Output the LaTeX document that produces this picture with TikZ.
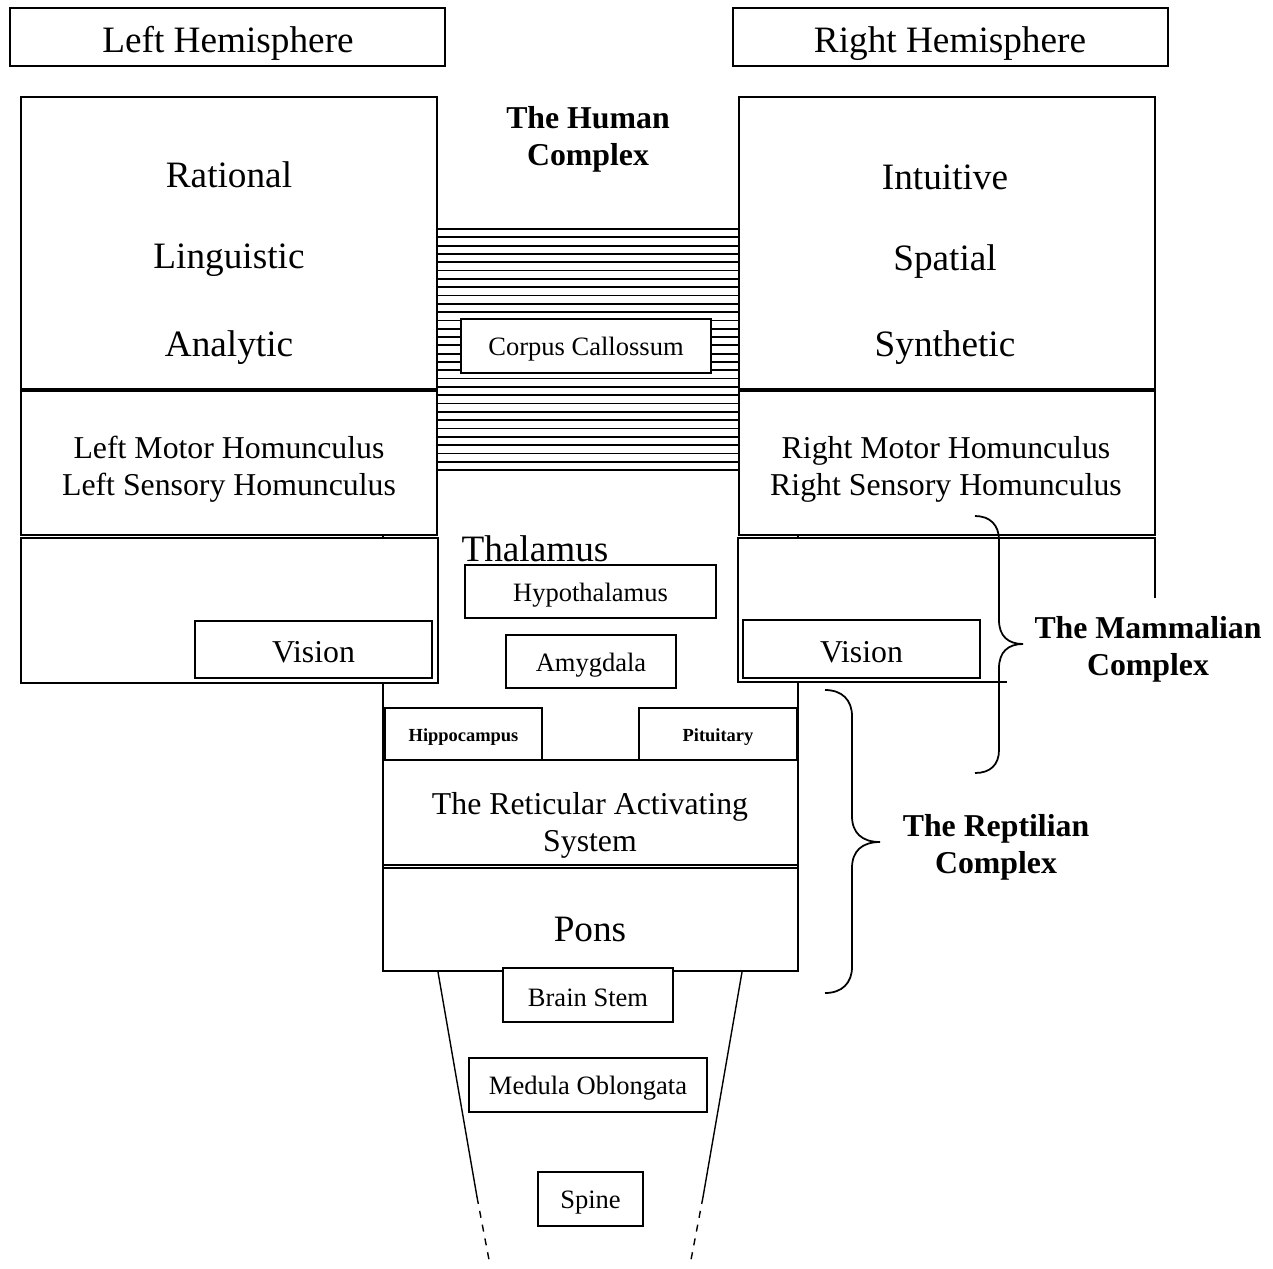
\documentclass[tikz,border=0pt]{standalone}
\usepackage{fontspec}
\setmainfont{Liberation Serif}
\usetikzlibrary{fit}
\newcommand\fszA{\fontsize{21.2}{25}\selectfont}
\newcommand\fszB{\fontsize{18.1}{21}\selectfont}
\newcommand\fszC{\fontsize{15.1}{18}\selectfont}
\newcommand\fszD{\fontsize{10.5}{12}\selectfont\bfseries}
\begin{document}
\begin{tikzpicture}[x=0.02cm,y=-0.02cm,
  box/.style={draw, line width=1pt, fill=white, inner sep=0pt},
  thinbox/.style={box, line width=0.8pt},
  lbl/.style={inner sep=0pt, align=center, yshift=-1.8pt},
  edge/.style={line width=1pt},
  brace/.style={line width=1pt},
  hatch/.style={line width=1pt},
  funnel/.style={line width=0.8pt}]
\useasboundingbox (0,0) rectangle (1273,1268);

% central column edges
\draw[edge] (383,535) -- (383,972);
\draw[edge] (798,535) -- (798,972);

% corpus callosum hatching
\foreach \i in {0,...,29} \draw[hatch] (437,{229+8.31*\i}) -- (739,{229+8.31*\i});

% hemisphere titles
\node[thinbox, fit={(10,8) (445,66)}] (lh) {};
\node[thinbox, fit={(733,8) (1168,66)}] (rh) {};
\node[lbl, font=\fszA] (lht) at (228,40) {Left Hemisphere};
\node[lbl, font=\fszA] (rht) at (950,40) {Right Hemisphere};

% upper boxes
\node[box, fit={(21,97) (437,389)}] (lbig) {};
\node[box, fit={(739,97) (1155,389)}] (rbig) {};
\node[lbl, font=\fszA] (rat) at (229,172) {Rational};
\node[lbl, font=\fszA] (lin) at (229,257) {Linguistic};
\node[lbl, font=\fszA] (ana) at (229,344) {Analytic};
\node[lbl, font=\fszA] (int) at (945,174) {Intuitive};
\node[lbl, font=\fszA] (spa) at (945,258) {Spatial};
\node[lbl, font=\fszA] (syn) at (945,344) {Synthetic};

\node[box, fit={(21,391) (437,535)}] (lmot) {};
\node[box, fit={(739,391) (1155,535)}] (rmot) {};
\node[lbl, font=\fszB] (lmt) at (229,466) {Left Motor Homunculus\\Left Sensory Homunculus};
\node[lbl, font=\fszB] (rmt) at (946,466) {Right Motor Homunculus\\Right Sensory Homunculus};

% lower hemisphere parts
\node[box, fit={(21,538) (438,683)}] (lvis) {};
\fill[white] (738,538) rectangle (1155,682);
\draw[edge] (1155,598) -- (1155,538) -- (738,538) -- (738,682) -- (1007,682);
\node[box, fit={(195,621) (432,678)}] (lv) {};
\node[lbl, font=\fszB] (lvt) at (lv) {Vision};
\node[box, fit={(743,620) (980,678)}] (rv) {};
\node[lbl, font=\fszB] (rvt) at (rv) {Vision};

% corpus callosum label
\node[box, fit={(461,319) (711,373)}] (cc) {};
\node[lbl, font=\fszC] (cct) at (cc) {Corpus Callossum};

\node[lbl, font=\fszA] (thal) at (535,546) {Thalamus};
\node[box, fit={(465,565) (716,618)}] (hyp) {};
\node[lbl, font=\fszC] (hypt) at (hyp) {Hypothalamus};
\node[box, fit={(506,635) (676,688)}] (amy) {};
\node[lbl, font=\fszC] (amyt) at (amy) {Amygdala};
\node[box, fit={(385,708) (542,760)}] (hip) {};
\node[lbl, font=\fszD] (hipt) at (hip) {Hippocampus};
\node[box, fit={(639,708) (797,760)}] (pit) {};
\node[lbl, font=\fszD] (pitt) at (pit) {Pituitary};
\node[box, fit={(383,760) (798,865)}] (ras) {};
\node[lbl, font=\fszB] (rast) at (590,822) {The Reticular Activating\\System};
\node[box, fit={(383,868) (798,971)}] (pons) {};
\node[lbl, font=\fszA] (ponst) at (590,926) {Pons};
\node[box, fit={(503,968) (673,1022)}] (bs) {};
\node[lbl, font=\fszC] (bst) at (bs) {Brain Stem};
\node[box, fit={(469,1058) (707,1112)}] (med) {};
\node[lbl, font=\fszC] (medt) at (med) {Medula Oblongata};
\node[box, fit={(538,1172) (643,1226)}] (spi) {};
\node[lbl, font=\fszC] (spit) at (spi) {Spine};

% funnel
\coordinate (fl1) at (438,972);
\coordinate (fl2) at (477,1197);
\coordinate (fl3) at (490,1265);
\coordinate (fr1) at (742,972);
\coordinate (fr2) at (703,1197);
\coordinate (fr3) at (690,1265);
\draw[funnel] (fl1) -- (fl2);
\draw[funnel, dash pattern=on 4pt off 4pt] (fl2) -- (fl3);
\draw[funnel] (fr1) -- (fr2);
\draw[funnel, dash pattern=on 4pt off 4pt] (fr2) -- (fr3);

% braces
\draw[brace] (975,516) .. controls (990,516) and (999,525) .. (999,540) -- (999,620)
  .. controls (999,636) and (1008,644) .. (1023,644)
  .. controls (1008,644) and (999,652) .. (999,668) -- (999,750)
  .. controls (999,765) and (990,773) .. (975,773);
\draw[brace] (825,690) .. controls (842,690) and (852,700) .. (852,716) -- (852,816)
  .. controls (852,833) and (862,842) .. (880,842)
  .. controls (862,842) and (852,851) .. (852,868) -- (852,967)
  .. controls (852,983) and (842,993) .. (825,993);

% complex labels
\node[lbl, font=\fszB\bfseries] (hum) at (588,136) {The Human\\Complex};
\node[lbl, font=\fszB\bfseries] (mam) at (1148,646) {The Mammalian\\Complex};
\node[lbl, font=\fszB\bfseries] (rep) at (996,844) {The Reptilian\\Complex};
\end{tikzpicture}
\end{document}
